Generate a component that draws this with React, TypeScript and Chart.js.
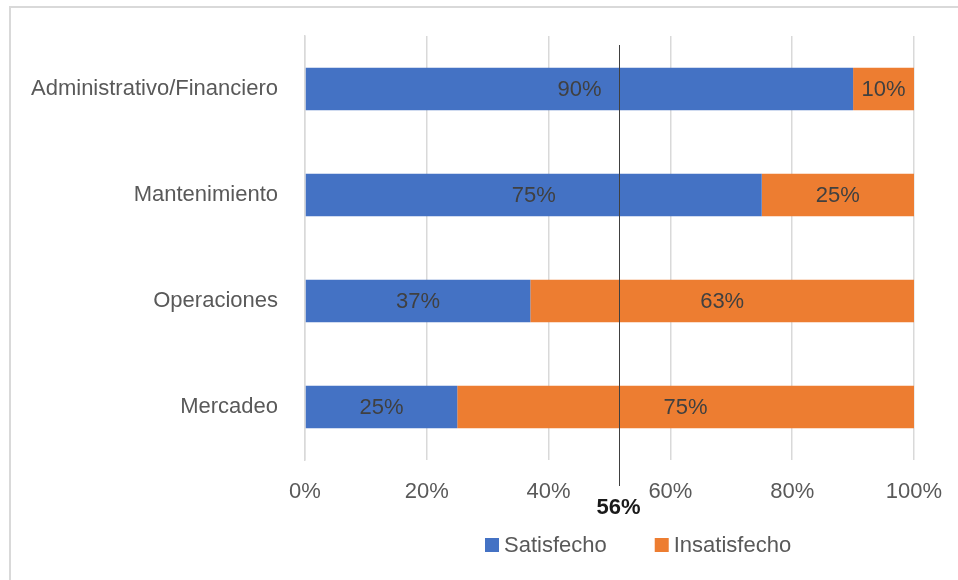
import React, { useEffect, useRef } from "react";
import { Chart, registerables } from "chart.js";

Chart.register(...registerables);

const categories = ["Administrativo/Financiero", "Mantenimiento", "Operaciones", "Mercadeo"];
const satisfecho = [90, 75, 37, 25];
const insatisfecho = [10, 25, 63, 75];
const seriesNames = ["Satisfecho", "Insatisfecho"];
const xTickValues = [0, 20, 40, 60, 80, 100];
const refLineValue = 51.6;
const refLineLabel = "56%";

const FONT = "'Liberation Sans', Arial, sans-serif";
const BLUE = "#4472C4";
const ORANGE = "#ED7D31";

const overlayPlugin = {
  id: "overlay",
  beforeDraw(chart: any) {
    const ctx = chart.ctx;
    ctx.save();
    ctx.fillStyle = "#ffffff";
    ctx.fillRect(0, 0, chart.width, chart.height);
    ctx.strokeStyle = "#d9d9d9";
    ctx.lineWidth = 2;
    ctx.strokeRect(10, 7, chart.width + 20, chart.height + 20);
    ctx.restore();
  },
  afterDatasetsDraw(chart: any) {
    const ctx = chart.ctx;
    ctx.save();
    // data labels
    ctx.font = `22px ${FONT}`;
    ctx.fillStyle = "#404040";
    ctx.textAlign = "center";
    ctx.textBaseline = "middle";
    chart.data.datasets.forEach((ds: any, di: number) => {
      const meta = chart.getDatasetMeta(di);
      meta.data.forEach((bar: any, i: number) => {
        const p = bar.getProps(["x", "y", "base"], true);
        const cx = (p.x + p.base) / 2;
        ctx.fillText(`${ds.data[i]}%`, cx, p.y + 1);
      });
    });
    // reference line
    const xs = chart.scales.x;
    const lx = Math.round(xs.getPixelForValue(refLineValue)) + 0.5;
    ctx.strokeStyle = "#404040";
    ctx.lineWidth = 1;
    ctx.beginPath();
    ctx.moveTo(lx, 45);
    ctx.lineTo(lx, 486);
    ctx.stroke();
    ctx.font = `bold 22px ${FONT}`;
    ctx.fillStyle = "#1a1a1a";
    ctx.fillText(refLineLabel, lx - 1, 508);
    // legend
    ctx.font = `22px ${FONT}`;
    ctx.textAlign = "left";
    let x = 485;
    const y = 545;
    chart.data.datasets.forEach((ds: any) => {
      ctx.fillStyle = ds.backgroundColor;
      ctx.fillRect(x, y - 7, 14, 14);
      ctx.fillStyle = "#595959";
      ctx.fillText(ds.label, x + 19, y + 1);
      x += 19 + ctx.measureText(ds.label).width + 48;
    });
    ctx.restore();
  },
};

export default function App() {
  const ref = useRef<HTMLCanvasElement | null>(null);
  useEffect(() => {
    document.body.style.margin = "0";
    if (!ref.current) return;
    const chart = new Chart(ref.current, {
      type: "bar",
      data: {
        labels: categories,
        datasets: [
          { label: seriesNames[0], data: satisfecho, backgroundColor: BLUE, barPercentage: 0.4, categoryPercentage: 1 },
          { label: seriesNames[1], data: insatisfecho, backgroundColor: ORANGE, barPercentage: 0.4, categoryPercentage: 1 },
        ],
      },
      options: {
        indexAxis: "y",
        animation: false,
        responsive: false,
        maintainAspectRatio: false,
        layout: { padding: { top: 36, right: 44, bottom: 0, left: 0 } },
        plugins: { legend: { display: false }, tooltip: { enabled: false } },
        scales: {
          x: {
            stacked: true,
            min: 0,
            max: 100,
            afterBuildTicks(scale: any) {
              scale.ticks = xTickValues.map((v) => ({ value: v }));
            },
            afterFit(scale: any) {
              scale.height = 120;
              scale.paddingLeft = 0;
              scale.paddingRight = 0;
            },
            grid: { color: "#d9d9d9", lineWidth: 1.5, drawTicks: false },
            border: { display: false },
            ticks: {
              callback: (v: any) => `${v}%`,
              color: "#595959",
              font: { family: FONT, size: 22 },
              padding: 19,
              maxRotation: 0,
              autoSkip: false,
            },
          },
          y: {
            stacked: true,
            afterFit(scale: any) {
              scale.width = 305;
              scale.paddingTop = 0;
              scale.paddingBottom = 0;
            },
            grid: { display: false, drawTicks: false },
            border: { display: true, color: "#d9d9d9", width: 1.5 },
            ticks: {
              color: "#595959",
              font: { family: FONT, size: 22 },
              padding: 27,
            },
          },
        },
      },
      plugins: [overlayPlugin],
    });
    return () => chart.destroy();
  }, []);
  return <canvas ref={ref} width={958} height={580} style={{ display: "block" }} />;
}
